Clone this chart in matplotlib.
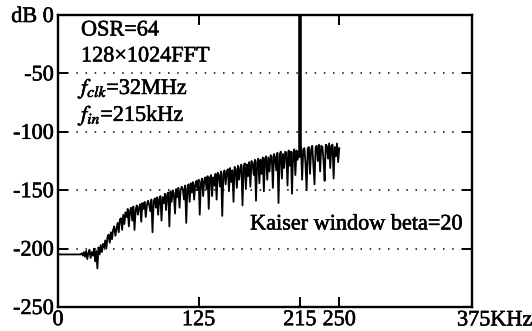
import numpy as np
import matplotlib
matplotlib.use("Agg")
import matplotlib.pyplot as plt
import matplotlib.patheffects as pe

# ---- data ----
freq_khz = np.arange(0, 251, 1)  # 1 kHz bins, 0..250
level_db = [
    -205, -205, -205, -205, -205, -205, -205, -205, -205, -205,
    -205, -205, -205, -205, -205, -205, -205, -205, -205, -205,
    -205, -204, -206, -203, -207, -202, -209, -204, -201, -208,
    -203, -206, -200, -211, -202, -217, -199, -205, -197, -203,
    -196, -199, -193, -200, -190, -188, -195, -186, -192, -184,
    -181, -189, -183, -178, -186, -175, -174, -184, -171, -179,
    -169, -173, -166, -181, -168, -165, -176, -164, -184, -167,
    -163, -171, -165, -162, -177, -161, -166, -160, -173, -163,
    -159, -162, -168, -158, -186, -160, -157, -165, -156, -171,
    -157, -155, -176, -156, -161, -153, -167, -154, -152, -181,
    -151, -160, -150, -153, -170, -149, -156, -148, -165, -150,
    -147, -149, -158, -146, -178, -148, -145, -160, -144, -152,
    -143, -158, -145, -142, -150, -141, -171, -144, -140, -155,
    -141, -139, -149, -138, -166, -140, -137, -155, -139, -146,
    -136, -158, -135, -137, -147, -134, -172, -136, -133, -145,
    -134, -132, -151, -131, -143, -133, -160, -130, -132, -148,
    -129, -141, -131, -128, -163, -130, -127, -149, -128, -138,
    -126, -147, -125, -127, -137, -124, -159, -126, -123, -144,
    -124, -136, -122, -151, -123, -121, -141, -122, -134, -120,
    -121, -148, -119, -122, -133, -118, -161, -120, -117, -140,
    -119, -131, -117, -118, -146, -116, -129, -117, -153, -118,
    -115, -137, -116, -124, -117, -121, -113, -141, -115, -114,
    -127, -150, -114, -113, -136, -115, -112, -128, -145, -113,
    -112, -125, -111, -134, -112, -113, -124, -142, -111, -112,
    -123, -110, -131, -112, -111, -140, -113, -121, -110, -126,
    -114,
]
tone_khz = 215
tone_db = 0

yticks = [0, -50, -100, -150, -200, -250]
ytick_labels = ["dB 0", "-50", "-100", "-150", "-200", "-250"]
xticks = [0, 125, 215, 250]
xtick_labels = ["0", "125", "215", "250"]
annotations = ["OSR=64", "128\u00d71024FFT", r"$f_{clk}$=32MHz", r"$f_{in}$=215kHz"]
window_label = "Kaiser window beta=20"

# ---- figure ----
plt.rcParams["font.family"] = ["Liberation Serif", "DejaVu Serif"]
plt.rcParams["mathtext.fontset"] = "stix"
FS = 16
stroke = [pe.withStroke(linewidth=0.4, foreground="black")]
W, H = 532, 331
fig = plt.figure(figsize=(W / 100, H / 100), dpi=100)
ax = fig.add_axes([58 / W, 1 - 307 / H, (472 - 58) / W, (307 - 15) / H])

x = list(freq_khz)
y = list(level_db)
ax.plot(x, y, color="black", lw=1.3)
ax.plot([tone_khz, tone_khz], [y[tone_khz], tone_db], color="black", lw=2.6)

ax.set_xlim(0, 368)
ax.set_ylim(-250, 0)

for g in yticks[1:-1]:
    ax.axhline(g, color="black", lw=1.1, ls=(0, (1, 5)), zorder=0)

ax.set_yticks(yticks)
ax.set_yticklabels(ytick_labels)
ax.set_xticks(xticks)
ax.set_xticklabels(xtick_labels)
ax.tick_params(direction="in", length=7, width=1.4, labelsize=FS, pad=3,
               top=True, right=True, colors="black")
for lab in ax.get_xticklabels() + ax.get_yticklabels():
    lab.set_path_effects(stroke)
for s in ax.spines.values():
    s.set_linewidth(1.7)

fig.text(457 / W, 1 - 321 / H, "375KHz", fontsize=FS, ha="left", va="center",
         path_effects=stroke)

ys = [31, 57, 89, 116]
for t, yy in zip(annotations, ys):
    fig.text(81 / W, 1 - yy / H, t, fontsize=FS, ha="left", va="center",
             path_effects=stroke)
fig.text(463 / W, 1 - 225 / H, window_label, fontsize=FS, ha="right", va="center",
         path_effects=stroke)

fig.savefig("out.png", dpi=100)
